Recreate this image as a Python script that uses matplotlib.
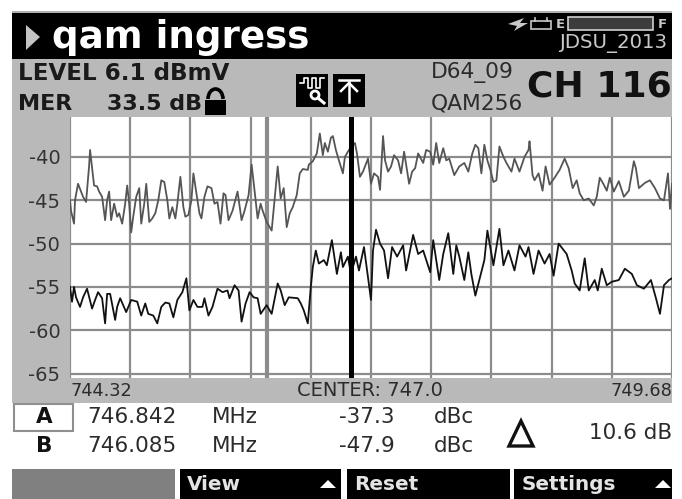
#Importing necessary libraries
import matplotlib
matplotlib.use('Agg')
import matplotlib.pyplot as plt
from matplotlib.patches import Rectangle, Polygon, Circle, Arc
import numpy as np

plt.rcParams['font.family'] = 'DejaVu Sans'
plt.rcParams['axes.unicode_minus'] = False

# Sweep settings
start_mhz = 744.32
stop_mhz = 749.68
center_mhz = 747.0
# Where the two marker lines sit on the sweep
marker_a_mhz = 746.825
marker_b_mhz = 746.075
y_ticks = [-40, -45, -50, -55, -60, -65]

# Upper trace (max hold): sweep bin out of 600, level in dB
upper_bins = [0, 1, 4, 5, 8, 11, 13, 16, 19, 20, 22, 24, 27, 29, 32, 35, 37, 39, 41, 44, 47, 49, 52, 55, 57, 59, 61, 63, 66, 69,
              71, 74, 76, 79, 82, 85, 88, 91, 94, 97, 99, 102, 105, 107, 110, 113, 115, 118, 121, 123, 126, 129, 131, 134, 137, 141, 144, 147, 150, 153, 155,
              158, 162, 167, 171, 174, 178, 181, 183, 187, 190, 192, 196, 198, 201, 204, 207, 210, 213, 216, 219, 222, 226, 229, 232, 237, 238,
              242, 246, 249, 252, 254, 257, 260, 262, 265, 268, 272, 274, 278, 281, 284, 286, 289, 292, 297, 300, 303, 307, 309, 312, 314, 317, 320, 323, 327, 330, 333, 338, 341, 344, 347, 352, 355, 359, 362, 365, 368, 372, 375, 378,
              383, 388, 393, 397, 401, 404, 407, 410, 413, 416, 419, 422, 425, 428, 432, 435, 440, 443, 448, 453, 457, 458, 461, 463, 467, 471, 474, 478, 483, 488, 493, 497, 501, 505, 508, 512, 517, 522, 525, 528, 532, 535, 538, 542, 547, 552, 557, 562, 564, 567, 573, 578, 583, 588, 592, 596, 598, 600]
upper_db = [-45, -46.2, -47.7, -45, -43.1, -44, -44.6, -45.2, -41.1, -39.2, -41.3, -43.3, -43.4, -44, -44.6, -47.3, -45, -44, -47.3, -45.4, -46.9, -46.5, -47.7, -45.4, -43.3, -45.4, -48.7, -46.9, -44.6, -43.6,
            -47.7, -45.4, -43.1, -47.5, -47.1, -46.5, -45, -42.7, -42.9, -45, -47.1, -45.8, -47.1, -45.4, -42.3, -45.8, -46.9, -46.7, -45, -41.9, -44.2, -46.5, -47.1, -44.6, -43.4, -43.6, -45.4, -45.2, -47.7, -44.2, -44.4,
            -47.3, -46.2, -44, -47.3, -46.2, -44.4, -40.9, -42.9, -47.1, -45.4, -46.2, -47.5, -47.9, -48.5, -44.8, -41.1, -44.8, -43.6, -48.1, -46.5, -45.8, -44.4, -41.9, -41.4, -41.5, -40.9,
            -40.5, -39.6, -37.3, -39.8, -38.4, -39.4, -37.8, -37.6, -39.2, -40.4, -41.9, -40, -39.2, -38.8, -38.4, -39.6, -42.3, -41.7, -40.2, -43.1, -41.9, -42.3, -43.8, -37.6, -40.4, -41.7, -41.1, -39.8, -40.4, -41.9, -39.4, -43.1, -41.7, -41.3, -39.6, -40.7, -39.2, -39.4, -40.9, -38.4, -40.7, -39, -40.4, -40.2,
            -42.1, -41.1, -40.7, -41.7, -39.6, -38.6, -39, -41.9, -38.6, -40.4, -41.5, -42.9, -42.7, -38.8, -40, -40.7, -41.7, -40.2, -41.7, -40, -39.2, -38.2, -42.1, -42.7, -41.9, -43.9, -41.1, -43.2, -42.4, -41.5, -40.2, -41.3, -43.6, -42.7, -44.2, -45, -44.8, -45.6, -44.6, -42.4, -43.2, -43.9, -42.4, -44, -42.8, -44.6, -43.9, -40.5, -41.3, -43.6, -43, -42.7, -43.6, -44.8, -45, -41.9, -46, -43.1]

# Lower trace (live sweep)
lower_bins = [0, 2, 4, 6, 10, 13, 17, 22, 25, 28, 32, 35, 37, 40, 45, 47, 50, 56, 61, 67, 71, 75, 78, 83, 87, 91, 95, 99, 103, 107, 112, 116, 119, 123, 127, 132, 134, 138, 142, 147, 152, 157,
              159, 164, 168, 171, 175, 179, 183, 187, 190, 196, 201, 207, 210, 214, 218, 227, 230, 233, 237, 240, 242, 245, 248, 253, 256, 261, 266, 270, 272, 277,
              280, 285, 288, 293, 300, 302, 305, 309, 313, 317, 321, 326, 332, 335, 342, 347, 352, 359, 362, 368, 372, 377,
              382, 385, 388, 393, 397, 400, 404, 408, 413, 416, 422, 428, 432, 437, 443, 448, 454, 457, 462, 467, 473, 478, 482, 487, 495, 500, 503, 508, 513, 517, 523, 526, 530, 535, 540, 547, 553, 560, 565, 572, 579, 584, 588, 592, 597, 600]
lower_db = [-55, -56.7, -55, -56.2, -57.3, -56.2, -55.2, -57.5, -56.5, -55.6, -56.3, -59.2, -55.8, -55.8, -58.8, -57.3, -56.3, -57.9, -56.5, -56.7, -58.3, -56.9, -58.1, -58.3, -59.2, -57.3, -56.8, -56.9, -58.5, -56.5, -55.6, -54, -57.7, -56.5, -57.3, -57.3, -56.3, -58.3, -57.3, -55.2, -55.6, -55.4,
            -56.3, -54.8, -55.4, -59, -56.9, -55.6, -56.2, -56.3, -58.1, -57.1, -58.1, -54.6, -55.4, -57.1, -56.2, -56.3, -56.9, -57.7, -59.2, -55, -52.7, -50.8, -52.3, -51.9, -52.5, -49.6, -53.5, -51, -52.7, -51.5,
            -53.5, -51.5, -53.1, -50.4, -56.5, -50.8, -48.4, -50, -50.8, -54, -50.4, -51.5, -50.2, -53.1, -49, -51.2, -50.8, -53.3, -49.6, -54.2, -51.2, -48.8,
            -53.5, -50.2, -51.5, -54.2, -51, -53.5, -56, -54.2, -51.9, -48.5, -52.5, -48.3, -52.5, -50.8, -53.1, -50.2, -51.5, -50.4, -53.5, -50.8, -52.3, -51.2, -53.7, -50, -51.2, -53.1, -54.6, -55.4, -51.7, -55.4, -54.2, -55.4, -52.9, -54.8, -54.4, -54.2, -52.9, -53.5, -54.8, -55.2, -54.2, -56.3, -58.1, -54.8, -54.2, -54]

# Screen texts
title = 'qam ingress'
marker_rows = [('A', '746.842', 'MHz', '-37.3', 'dBc'), ('B', '746.085', 'MHz', '-47.9', 'dBc')]
delta_text = '10.6 dB'

W, H = 682, 499
fig = plt.figure(figsize=(W / 100, H / 100), dpi=100, facecolor='white')

# Overlay axes in pixel coordinates for the instrument screen around the plot
bg = fig.add_axes([0, 0, 1, 1])
bg.set_xlim(0, W)
bg.set_ylim(H, 0)
bg.axis('off')

panel = '#b9b9b9'
dark = '#2b2b2b'

def box(x0, y0, x1, y1, color, **kw):
    bg.add_patch(Rectangle((x0, y0), x1 - x0, y1 - y0, facecolor=color, edgecolor='none', **kw))

def label(x, y, s, size, ha='left', color=dark, weight='normal'):
    bg.text(x, y, s, fontsize=size, ha=ha, va='center', color=color, fontweight=weight)

# Header
box(12, 11, 672, 13, '#b0b0b0')
box(12, 13, 672, 59, 'black')
bg.add_patch(Polygon([(26, 25), (26, 50), (40, 37)], facecolor='#c4c4c4', edgecolor='none'))
label(52, 37, title, 26.8, color='white', weight='bold')
label(667, 43, 'JDSU_2013', 14.2, ha='right', color='#c8c8c8')

# Charge / battery indicators
bg.add_patch(Polygon([(508, 24), (524, 18), (520, 23), (528, 23), (514, 31), (517, 26)], facecolor='#c8c8c8', edgecolor='none'))
bg.add_patch(Rectangle((531, 21), 20, 8, facecolor='black', edgecolor='#c8c8c8', lw=1.2))
bg.plot([535, 535], [18, 21], color='#c8c8c8', lw=1.2)
bg.plot([547, 547], [18, 21], color='#c8c8c8', lw=1.2)
bg.text(560, 24, 'E', fontsize=9.5, ha='center', va='center', color='#c8c8c8', fontweight='bold')
bg.add_patch(Rectangle((568, 17), 85, 13, facecolor='#3c3c3c', edgecolor='#d0d0d0', lw=1.2))
bg.text(662, 24, 'F', fontsize=9.5, ha='center', va='center', color='#c8c8c8', fontweight='bold')

# Status panel and plot surround
box(12, 59, 672, 117, panel)
box(12, 117, 70, 403, panel)
box(12, 378, 672, 403, panel)
label(18, 73, 'LEVEL 6.1 dBmV', 16.6, color='#1a1a1a', weight='bold')
label(18, 104, 'MER', 16, color='#1a1a1a', weight='bold')
label(107, 104, '33.5 dB', 16, color='#1a1a1a', weight='bold')
label(431, 72, 'D64_09', 15.7)
label(431, 103, 'QAM256', 15.7)
label(672, 86, 'CH 116', 26, ha='right', color='#111111', weight='bold')

# Lock icon
box(205, 100, 226, 115, 'black')
bg.add_patch(Arc((215.5, 99), 15, 20, theta1=180, theta2=360, color='black', lw=2.6))

# Zoom and peak icons
box(296, 74, 328, 107, 'black')
box(333, 74, 365, 107, 'black')
bg.plot([300, 304, 304, 308, 308, 312, 312, 316, 316, 320, 320, 324], [83, 83, 78, 78, 88, 88, 78, 78, 88, 88, 78, 78],
        color='white', lw=1.2)
bg.add_patch(Circle((315, 95), 4, facecolor='none', edgecolor='white', lw=2))
bg.plot([318, 324], [98, 103], color='white', lw=2.2)
bg.plot([339, 359], [80, 80], color='white', lw=1.8)
bg.plot([349, 349], [82, 102], color='white', lw=1.8)
bg.plot([341, 349, 357], [91, 83, 91], color='white', lw=1.8)

# Axis annotations under the plot
label(71, 391, f'{start_mhz:.2f}', 12.8)
label(297, 391, f'CENTER: {center_mhz:.1f}', 14)
label(672, 391, f'{stop_mhz:.2f}', 12.8, ha='right')

# Marker table
bg.add_patch(Rectangle((14, 404), 59, 27, facecolor='white', edgecolor='#8f8f8f', lw=1.5))
for (name, freq, unit, level, rel), y in zip(marker_rows, [417, 446]):
    label(44, y, name, 15.5, ha='center', color='#111111', weight='bold')
    label(132, y, freq, 15.5, ha='center')
    label(235, y, unit, 15.5, ha='center')
    label(367, y, level, 15.5, ha='center')
    label(454, y, rel, 15.5, ha='center')
bg.add_patch(Polygon([(521, 421), (509, 446), (533, 446)], facecolor='white', edgecolor='#111111', lw=2.4))
label(672, 433, delta_text, 15.5, ha='right')

# Soft keys
box(12, 469, 175, 499, '#808080')
for x0, x1 in [(180, 341), (347, 510), (514, 672)]:
    box(x0, 469, x1, 499, 'black')
for x, s in [(187, 'View'), (354, 'Reset'), (522, 'Settings')]:
    label(x, 484, s, 14.4, color='#e4e4e4', weight='bold')
for x in [328, 663]:
    bg.add_patch(Polygon([(x - 8, 488), (x + 8, 488), (x, 480)], facecolor='white', edgecolor='none'))

# Plot axes
ax = fig.add_axes([70 / W, 1 - 378 / H, (672 - 70) / W, (378 - 117) / H])
ax.set_facecolor('white')
ax.set_xlim(start_mhz, stop_mhz)
ax.set_ylim(-65.5, -35.4)
for s in ax.spines.values():
    s.set_visible(False)
ax.set_xticks(np.linspace(start_mhz, stop_mhz, 11))
ax.set_xticklabels([])
ax.set_yticks(y_ticks)
ax.set_yticklabels([str(t) for t in y_ticks], fontsize=14, color='#333333')
ax.tick_params(axis='both', length=0, pad=7)
ax.grid(True, color='#8c8c8c', lw=1.6)
ax.set_axisbelow(True)


def to_mhz(bins):
    return start_mhz + np.array(bins) / 600 * (stop_mhz - start_mhz)


ax.axvline(marker_b_mhz, color='#8c8c8c', lw=3, zorder=2)
ax.plot(to_mhz(upper_bins), upper_db, color='#555555', lw=1.3, zorder=3)
ax.plot(to_mhz(lower_bins), lower_db, color='#111111', lw=1.3, zorder=3)
ax.axvline(marker_a_mhz, color='black', lw=3.6, zorder=4)

plt.savefig('out.png', dpi=100)
